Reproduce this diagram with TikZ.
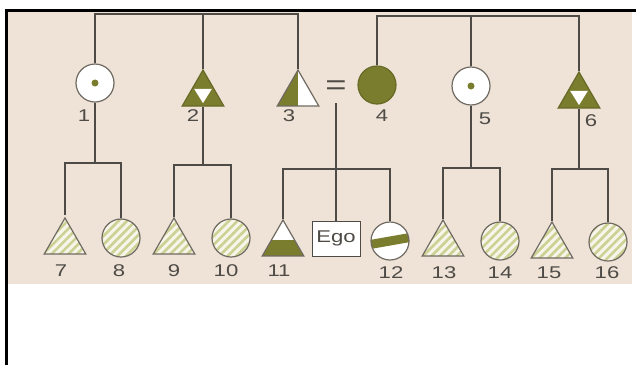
\documentclass[tikz,border=0pt]{standalone}
\usepackage{fontspec}
\newfontfamily\lblfont[FakeStretch=1.3]{Liberation Sans}
\usetikzlibrary{shapes.geometric,patterns.meta,calc}
\definecolor{paper}{RGB}{238,227,214}
\definecolor{moss}{RGB}{122,124,46}
\definecolor{hatch}{RGB}{204,208,146}
\definecolor{pale}{RGB}{247,245,234}
\definecolor{edge}{RGB}{112,106,98}
\definecolor{ink}{RGB}{78,74,70}

\begin{document}
\begin{tikzpicture}[x=1pt,y=-1pt,
  link/.style={draw=ink,line width=1.4pt},
  person/.style={draw=edge,line width=1.2pt,inner sep=0pt,fill=white},
  female/.style={person,circle,minimum size=38pt},
  male/.style={person,regular polygon,regular polygon sides=3,minimum size=48pt},
  kin/.style={preaction={fill=pale},pattern={Lines[angle=45,distance=6pt,line width=2.6pt]},pattern color=hatch},
  centredot/.style={path picture={\fill[moss] (path picture bounding box.center) circle (3.5pt);}},
  darkfill/.style={fill=moss,draw=moss!85!black},
  triforce/.style={darkfill,path picture={
    \path (path picture bounding box.north) coordinate (ta)
          (path picture bounding box.south west) coordinate (tb)
          (path picture bounding box.south east) coordinate (tc);
    \fill[white] ($.475*(ta)+.475*(tb)+.05*(tc)$) -- ($.475*(ta)+.05*(tb)+.475*(tc)$)
      -- ($.08*(ta)+.46*(tb)+.46*(tc)$) -- cycle;}},
  halfdark/.style={path picture={\fill[moss] (path picture bounding box.south west) rectangle (path picture bounding box.north);}},
  lowdark/.style={path picture={\fill[moss] (path picture bounding box.south west) rectangle ([yshift=16pt]path picture bounding box.south east);}},
  band/.style={path picture={
    \path (path picture bounding box.center) coordinate (bc);
    \fill[moss] ($(bc)+(190:30pt)+(280:4.5pt)$) -- ($(bc)+(10:30pt)+(280:4.5pt)$)
      -- ($(bc)+(10:30pt)+(100:4.5pt)$) -- ($(bc)+(190:30pt)+(100:4.5pt)$) -- cycle;}},
  num/.style={font=\lblfont\fontsize{17}{20}\selectfont,text=ink,inner sep=0pt},
  egobox/.style={draw=ink,fill=white,line width=0.9pt,minimum width=48pt,minimum height=35pt,inner sep=0pt,font=\lblfont\fontsize{17}{20}\selectfont,text=ink}]
\useasboundingbox (0,0) rectangle (636,365);
\fill[paper] (8,11.5) rectangle (632,284);
\draw[line width=3pt] (6.5,365) -- (6.5,10) -- (636,10);

\node[female,centredot] (p1) at (95,83) {};
\node[male,triforce] (p2) at (203,94) {};
\node[male,halfdark] (p3) at (298,94) {};
\node[num,minimum height=30pt] (eq) at (336,88) {\fontsize{28}{30}\selectfont =};
\node[female,darkfill] (p4) at (377,85) {};
\node[female,centredot] (p5) at (471,86) {};
\node[male,triforce] (p6) at (579,96) {};

\node[male,kin] (p7) at (65,242) {};
\node[female,kin] (p8) at (121,238) {};
\node[male,kin] (p9) at (174,242) {};
\node[female,kin] (p10) at (231,238) {};
\node[male,lowdark] (p11) at (283,244) {};
\node[egobox] (ego) at (336,238.5) {Ego};
\node[female,band] (p12) at (390,241) {};
\node[male,kin] (p13) at (443,244) {};
\node[female,kin] (p14) at (500,241) {};
\node[male,kin] (p15) at (552,246) {};
\node[female,kin] (p16) at (608,242) {};

\node[num] (n1) at (84,116) {1};
\node[num] (n2) at (193,116) {2};
\node[num] (n3) at (289,116) {3};
\node[num] (n4) at (382,116) {4};
\node[num] (n5) at (485,119) {5};
\node[num] (n6) at (591,121) {6};
\node[num] (n7) at (61,271) {7};
\node[num] (n8) at (119,271) {8};
\node[num] (n9) at (174,271) {9};
\node[num] (n10) at (226,271) {10};
\node[num] (n11) at (279,271) {11};
\node[num] (n12) at (391,273) {12};
\node[num] (n13) at (444,273) {13};
\node[num] (n14) at (500,273) {14};
\node[num] (n15) at (549,273) {15};
\node[num] (n16) at (607,273) {16};

\coordinate (topL) at (203,14);
\coordinate (topR) at (471,16);
\coordinate (sibA) at (95,163);
\coordinate (sibB) at (203,165);
\coordinate (sibE) at (336,169);
\coordinate (sibC) at (471,168);
\coordinate (sibD) at (579,169);

\draw[link] (p1) |- (topL) -| (p3);
\draw[link] (p2) -- (p2 |- topL);
\draw[link] (p4) |- (topR) -| (p6);
\draw[link] (p5) -- (p5 |- topR);

\draw[link] (p1) -- (sibA);
\draw[link] (p7) |- (sibA) -| (p8);
\draw[link] (p2) -- (sibB);
\draw[link] (p9) |- (sibB) -| (p10);
\draw[link] (eq) -- (sibE) -- (ego);
\draw[link] (p11) |- (sibE) -| (p12);
\draw[link] (p5) -- (sibC);
\draw[link] (p13) |- (sibC) -| (p14);
\draw[link] (p6) -- (sibD);
\draw[link] (p15) |- (sibD) -| (p16);
\end{tikzpicture}
\end{document}
